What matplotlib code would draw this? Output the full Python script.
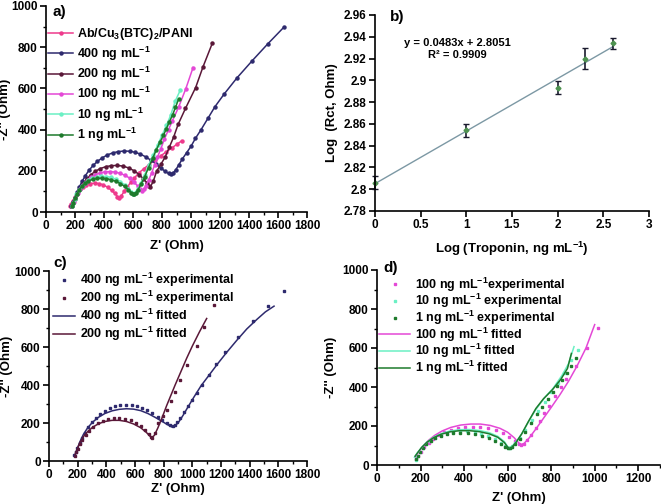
import matplotlib
matplotlib.use('Agg')
import matplotlib.pyplot as plt
from matplotlib.ticker import MultipleLocator, FormatStrFormatter

plt.rcParams['font.family'] = ['Liberation Sans', 'DejaVu Sans']
plt.rcParams['font.weight'] = 'bold'
plt.rcParams['axes.labelweight'] = 'bold'
plt.rcParams['axes.linewidth'] = 1.2
plt.rcParams['mathtext.fontset'] = 'custom'
plt.rcParams['mathtext.rm'] = 'Liberation Sans:bold'
plt.rcParams['mathtext.bf'] = 'Liberation Sans:bold'
plt.rcParams['mathtext.default'] = 'bf'

# ---- Nyquist data (experimental), Z' and -Z'' in Ohm ----
ab_x = [168, 175, 185, 197, 212, 230, 252, 278, 305, 335, 365, 395, 425, 452, 475, 493, 505,
        520, 540, 560, 585, 610, 640, 675, 710, 750, 790, 830, 870, 905, 935]
ab_y = [28, 40, 55, 72, 90, 106, 120, 131, 138, 140, 138, 132, 120, 105, 90, 75, 66,
        80, 100, 120, 145, 165, 190, 210, 230, 252, 272, 292, 312, 330, 345]

c400_x = [175, 185, 198, 213, 230, 250, 272, 297, 325, 355, 388, 423, 460, 498, 537, 576, 614,
          651, 687, 722, 757, 790, 820, 845, 862, 878, 895, 915, 940, 970, 1001, 1031, 1068,
          1117, 1165, 1229, 1317, 1423, 1528, 1639]
c400_y = [30, 48, 70, 95, 122, 150, 177, 203, 226, 246, 263, 277, 287, 293, 296, 295, 290,
          281, 268, 252, 234, 215, 198, 187, 184, 190, 205, 228, 257, 288, 320, 358, 398,
          455, 511, 573, 651, 735, 815, 896]

c200_x = [178, 188, 200, 215, 233, 255, 280, 308, 340, 375, 412, 450, 490, 530, 570, 608, 642,
          672, 698, 712, 720, 740, 763, 795, 822, 850, 880, 911, 962, 1032, 1083, 1148]
c200_y = [28, 45, 65, 88, 112, 137, 160, 180, 198, 211, 220, 225, 226, 223, 214, 200, 182,
          161, 140, 126, 122, 150, 198, 235, 267, 314, 363, 425, 503, 604, 705, 821]

c100_x = [180, 190, 203, 218, 237, 258, 282, 310, 340, 372, 405, 440, 475, 510, 545, 578, 608,
          633, 650, 662, 675, 690, 708, 729, 749, 768, 791, 817, 845, 870, 914, 964, 1014]
c100_y = [30, 48, 68, 90, 112, 133, 152, 168, 181, 190, 195, 196, 194, 188, 178, 164, 145,
          125, 110, 102, 110, 128, 155, 190, 228, 265, 305, 355, 400, 440, 508, 598, 701]

c10_x = [178, 186, 197, 210, 226, 245, 267, 292, 320, 350, 382, 415, 448, 480, 512, 542, 568,
         588, 602, 610, 620, 635, 655, 680, 710, 740, 770, 800, 830, 860, 891, 925]
c10_y = [28, 45, 65, 86, 106, 125, 141, 154, 164, 170, 173, 172, 168, 160, 148, 132, 114,
         98, 89, 88, 95, 112, 140, 180, 230, 278, 325, 372, 420, 470, 538, 590]

c1_x = [180, 188, 198, 211, 227, 246, 268, 293, 321, 351, 383, 416, 449, 481, 513, 543, 568,
        588, 602, 610, 620, 635, 655, 680, 707, 735, 760, 787, 810, 829, 850, 873, 893, 914]
c1_y = [30, 46, 66, 86, 106, 124, 139, 151, 159, 163, 164, 162, 157, 149, 138, 124, 108,
        94, 86, 85, 92, 108, 135, 170, 215, 260, 300, 341, 372, 403, 437, 471, 508, 547]

# ---- fitted curves ----
fit400_x = [180, 195, 215, 240, 270, 305, 345, 390, 440, 490, 540, 590, 640, 690, 740, 790, 830,
            860, 880, 905, 935, 970, 1010, 1060, 1120, 1180, 1240, 1310, 1380, 1450, 1510, 1570]
fit400_y = [28, 60, 100, 140, 175, 205, 230, 250, 264, 272, 275, 273, 265, 250, 230, 208, 190,
            178, 185, 205, 240, 285, 335, 395, 455, 515, 572, 635, 695, 745, 785, 815]

fit200_x = [180, 195, 215, 240, 270, 305, 345, 390, 440, 490, 540, 590, 640, 680, 705, 718,
            735, 760, 790, 820, 850, 880, 920, 960, 1000, 1050, 1100]
fit200_y = [28, 60, 95, 128, 155, 178, 196, 208, 214, 214, 208, 195, 175, 150, 130, 122,
            135, 175, 230, 290, 345, 400, 470, 540, 605, 680, 750]

fit100_x = [175, 190, 210, 235, 265, 300, 340, 385, 430, 475, 520, 565, 600, 630, 650, 660,
            675, 700, 730, 765, 800, 840, 880, 920, 960, 1000]
fit100_y = [40, 65, 95, 125, 152, 175, 193, 205, 210, 210, 203, 188, 168, 140, 115, 105,
            110, 140, 185, 240, 295, 360, 430, 510, 600, 720]

fit10_x = [172, 185, 205, 230, 260, 295, 335, 380, 425, 470, 515, 555, 585, 600, 608,
           620, 640, 665, 695, 730, 770, 810, 850, 880, 905]
fit10_y = [40, 62, 90, 118, 142, 161, 174, 181, 182, 177, 166, 147, 120, 95, 88,
           95, 120, 160, 220, 285, 345, 395, 460, 520, 607]

fit1_x = [175, 188, 205, 230, 260, 295, 335, 380, 425, 470, 515, 555, 585, 600, 608,
          620, 640, 665, 695, 730, 765, 805, 845, 875, 893]
fit1_y = [45, 65, 90, 117, 140, 158, 170, 176, 176, 171, 160, 142, 115, 92, 86,
          92, 118, 160, 222, 290, 340, 385, 440, 495, 572]

# ---- calibration (panel b) ----
log_conc = [0, 1, 2, 2.301, 2.602]
log_rct = [2.806, 2.854, 2.893, 2.920, 2.934]
rct_err = [0.006, 0.006, 0.006, 0.010, 0.005]
slope, intercept = 0.0483, 2.8051

col_ab = '#EE3A8C'
col_400 = '#2E2A6E'
col_200 = '#5A1838'
col_100 = '#E448D6'
col_10 = '#6BF0C4'
col_1 = '#1E7A2C'

fig = plt.figure(figsize=(6.61, 5.04), dpi=100)
W, H = 661.0, 504.0


def add_ax(l, t, r, b):
    return fig.add_axes([l / W, 1 - b / H, (r - l) / W, (b - t) / H])


def style_axes(ax, xlab, ylab, xl, yl):
    for s in ('top', 'right'):
        ax.spines[s].set_visible(False)
    ax.tick_params(which='major', length=4, width=1.2, labelsize=8.5, pad=2)
    ax.tick_params(which='minor', length=2.5, width=1)
    for lab in ax.get_xticklabels() + ax.get_yticklabels():
        lab.set_fontweight('bold')
    ax.set_xlabel(xlab, fontsize=9.5)
    ax.set_ylabel(ylab, fontsize=9.5)
    ax.xaxis.set_label_coords(0.5, xl)
    ax.yaxis.set_label_coords(yl, 0.5)


def nyquist_ticks(ax, xmax):
    ax.set_xlim(0, xmax)
    ax.set_ylim(0, 1000)
    ax.xaxis.set_major_locator(MultipleLocator(200))
    ax.xaxis.set_minor_locator(MultipleLocator(100))
    ax.yaxis.set_major_locator(MultipleLocator(200))
    ax.yaxis.set_minor_locator(MultipleLocator(100))


leg_font = {'weight': 'bold', 'size': 9}

# ---------- a) ----------
ax = add_ax(46, 6, 307, 212)
kw = dict(marker='o', ms=2.2, lw=1.1)
ax.plot(ab_x, ab_y, color=col_ab, label='Ab/Cu$_3$(BTC)$_2$/PANI', **kw)
ax.plot(c400_x, c400_y, color=col_400, label='400 ng mL$^{-1}$', **kw)
ax.plot(c200_x, c200_y, color=col_200, label='200 ng mL$^{-1}$', **kw)
ax.plot(c100_x, c100_y, color=col_100, label='100 ng mL$^{-1}$', **kw)
ax.plot(c10_x, c10_y, color=col_10, label='10 ng mL$^{-1}$', **kw)
ax.plot(c1_x, c1_y, color=col_1, label='1 ng mL$^{-1}$', **kw)
nyquist_ticks(ax, 1800)
style_axes(ax, "Z' (Ohm)", "-Z'' (Ohm)", -0.135, -0.135)
ax.legend(loc='upper left', bbox_to_anchor=(-0.01, 0.925), frameon=False,
          prop=leg_font, handlelength=2.0, handletextpad=0.3,
          labelspacing=0.17, borderaxespad=0)
ax.text(0.025, 0.97, 'a)', transform=ax.transAxes, fontsize=11, fontweight='bold',
        va='center', ha='left')

# ---------- b) ----------
ax = add_ax(375, 15, 649, 211)
ax.plot([0, 2.6], [intercept, slope * 2.6 + intercept], color='#7C98A4', lw=1)
ax.errorbar(log_conc, log_rct, yerr=rct_err, fmt='D', ms=2.5, color='#4E9250',
            ecolor='#1A1A2E', elinewidth=1.2, capsize=2.2, capthick=1, clip_on=False)
ax.set_xlim(0, 3)
ax.set_ylim(2.78, 2.96)
ax.xaxis.set_major_locator(MultipleLocator(0.5))
ax.yaxis.set_major_locator(MultipleLocator(0.02))
ax.xaxis.set_major_formatter(FormatStrFormatter('%g'))
ax.yaxis.set_major_formatter(FormatStrFormatter('%g'))
style_axes(ax, 'Log (Troponin, ng mL$^{-1}$)', 'Log  (Rct, Ohm)', -0.145, -0.135)
ax.text(0.3, 0.855, 'y = 0.0483x + 2.8051', transform=ax.transAxes, fontsize=8,
        fontweight='bold', ha='center', va='center')
ax.text(0.3, 0.795, 'R² = 0.9909', transform=ax.transAxes, fontsize=8,
        fontweight='bold', ha='center', va='center')
ax.text(0.055, 0.99, 'b)', transform=ax.transAxes, fontsize=11, fontweight='bold',
        va='center', ha='left')

# ---------- c) ----------
ax = add_ax(49, 271, 307, 461)
ax.plot(c400_x, c400_y, 's', ms=2, color=col_400, label='400 ng mL$^{-1}$ experimental')
ax.plot(c200_x, c200_y, 's', ms=2, color=col_200, label='200 ng mL$^{-1}$ experimental')
ax.plot(fit400_x, fit400_y, '-', lw=1.1, color=col_400, label='400 ng mL$^{-1}$ fitted')
ax.plot(fit200_x, fit200_y, '-', lw=1.1, color=col_200, label='200 ng mL$^{-1}$ fitted')
nyquist_ticks(ax, 1800)
style_axes(ax, "Z' (Ohm)", "-Z'' (Ohm)", -0.115, -0.138)
ax.legend(loc='upper left', bbox_to_anchor=(-0.005, 1.025), frameon=False,
          prop=leg_font, handlelength=1.8, handletextpad=0.35,
          labelspacing=-0.03, borderaxespad=0)
ax.text(0.016, 1.04, 'c)', transform=ax.transAxes, fontsize=11, fontweight='bold',
        va='center', ha='left')

# ---------- d) ----------
ax = add_ax(377, 270, 660, 465)
ax.plot(c100_x, c100_y, 's', ms=2, color=col_100, label='100 ng mL$^{-1}$experimental')
ax.plot(c10_x, c10_y, 's', ms=2, color=col_10, label='10 ng mL$^{-1}$ experimental')
ax.plot(c1_x, c1_y, 's', ms=2, color=col_1, label='1 ng mL$^{-1}$ experimental')
ax.plot(fit100_x, fit100_y, '-', lw=1.1, color=col_100, label='100 ng mL$^{-1}$ fitted')
ax.plot(fit10_x, fit10_y, '-', lw=1.1, color=col_10, label='10 ng mL$^{-1}$ fitted')
ax.plot(fit1_x, fit1_y, '-', lw=1.1, color=col_1, label='1 ng mL$^{-1}$ fitted')
nyquist_ticks(ax, 1300)
style_axes(ax, "Z' (Ohm)", "-Z'' (Ohm)", -0.14, -0.14)
ax.legend(loc='upper left', bbox_to_anchor=(-0.01, 0.998), frameon=False,
          prop=leg_font, handlelength=2.5, handletextpad=0.4,
          labelspacing=-0.12, borderaxespad=0)
ax.text(0.021, 1.01, 'd)', transform=ax.transAxes, fontsize=11, fontweight='bold',
        va='center', ha='left')

fig.savefig('out.png', dpi=100)
